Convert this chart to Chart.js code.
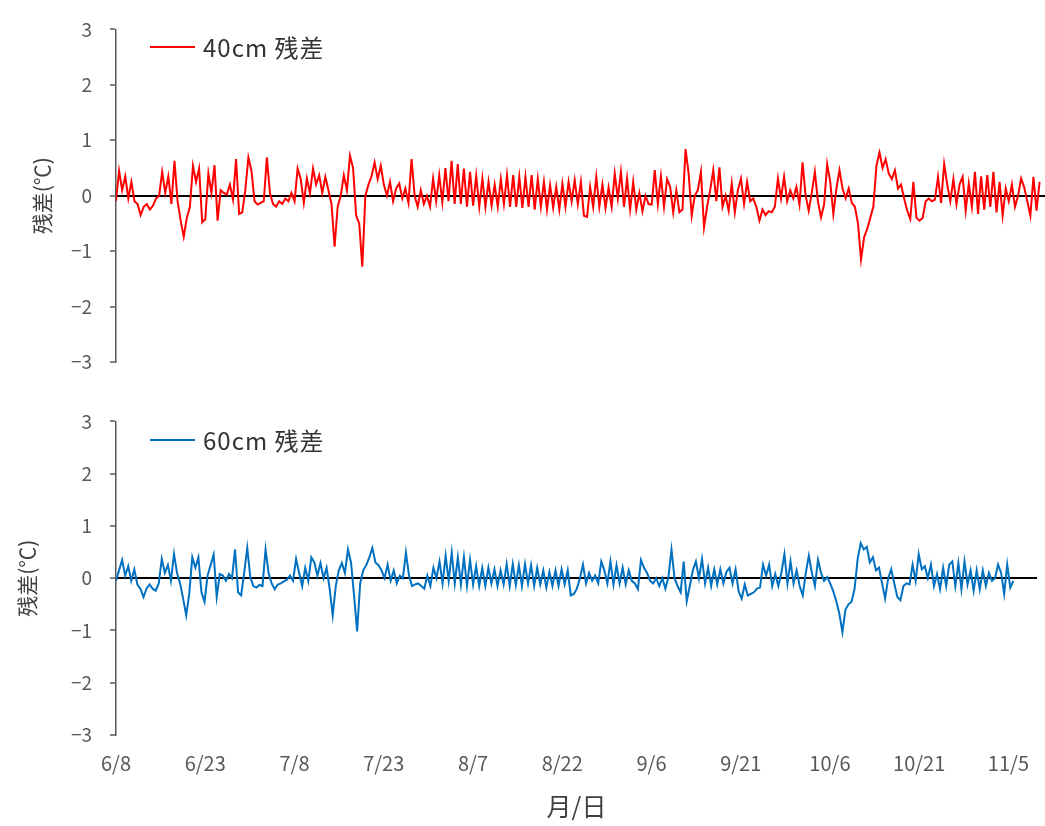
<!DOCTYPE html>
<html lang="ja">
<head>
<meta charset="utf-8">
<title>残差</title>
<script src="https://cdn.jsdelivr.net/npm/chart.js@4.4.1/dist/chart.umd.min.js"></script>
<style>
  html, body { margin: 0; padding: 0; background: #fff; }
  body { width: 1045px; height: 826px; position: relative; overflow: hidden; font-family: "Noto Sans CJK JP", sans-serif; }
  .panel { position: absolute; left: 0; width: 1045px; }
  #topPanel { top: 0; height: 392px; }
  #bottomPanel { top: 392px; height: 434px; }
  .legend { position: absolute; left: 150px; font-size: 24px; line-height: 28px; letter-spacing: 1px; color: #333333; display: flex; align-items: center; white-space: nowrap; }
  .legend .swatch { display: inline-block; width: 45px; height: 2px; margin-right: 8px; }
</style>
</head>
<body>
<div class="panel" id="topPanel"><canvas id="chart40"></canvas></div>
<div class="panel" id="bottomPanel"><canvas id="chart60"></canvas></div>
<div class="legend" id="legend40" style="top:33px"></div>
<div class="legend" id="legend60" style="top:426px"></div>
<script>
// tick labels, one every 15 days starting 6/8
const dateLabels = ['6/8', '6/23', '7/8', '7/23', '8/7', '8/22', '9/6', '9/21', '10/6', '10/21', '11/5'];
const tickEveryDays = 15;
const axisEndDay = 154.8;   // plot runs a little past 11/5
const sampleDays = 0.513;   // spacing of the digitised samples

// residuals at 40cm depth (°C)
const res40 = [
  -0.1, 0.45, 0.1, 0.35, -0.05, 0.25, -0.1, -0.15, -0.35, -0.2,
  -0.15, -0.25, -0.18, -0.05, 0, 0.43, 0.05, 0.35, -0.15, 0.63,
  -0.1, -0.45, -0.74, -0.4, -0.2, 0.54, 0.25, 0.49, -0.48, -0.42,
  0.4, 0.05, 0.55, -0.45, 0.1, 0.05, 0.02, 0.2, -0.07, 0.66,
  -0.33, -0.3, 0.1, 0.69, 0.45, -0.1, -0.16, -0.13, -0.1, 0.69,
  0.05, -0.15, -0.2, -0.1, -0.15, -0.05, -0.1, 0.05, -0.1, 0.49,
  0.3, -0.13, 0.31, 0.05, 0.49, 0.2, 0.37, 0.05, 0.34, 0.1,
  -0.15, -0.92, -0.2, 0, 0.37, 0.1, 0.72, 0.5, -0.36, -0.5,
  -1.28, 0, 0.2, 0.35, 0.6, 0.3, 0.54, 0.2, 0, 0.25,
  -0.1, 0.13, 0.22, -0.05, 0.13, -0.13, 0.66, 0, -0.2, 0.1,
  -0.15, 0, -0.2, 0.31, -0.1, 0.37, -0.12, 0.5, -0.1, 0.63,
  -0.15, 0.57, -0.15, 0.49, -0.2, 0.43, -0.18, 0.36, -0.2, 0.31,
  -0.2, 0.25, -0.18, 0.2, -0.2, 0.3, -0.15, 0.37, -0.2, 0.37,
  -0.2, 0.34, -0.22, 0.34, -0.2, 0.37, -0.25, 0.3, -0.2, 0.25,
  -0.25, 0.19, -0.22, 0.16, -0.25, 0.22, -0.2, 0.25, -0.1, 0.28,
  -0.15, 0.25, -0.36, -0.38, 0.16, -0.2, 0.34, -0.2, 0.2, -0.22,
  0.15, -0.2, 0.4, -0.05, 0.43, -0.2, 0.31, -0.25, 0.25, -0.25,
  0.05, -0.28, 0, -0.15, -0.16, 0.46, -0.15, 0.35, -0.2, 0.3,
  0.16, -0.3, 0.1, -0.3, -0.25, 0.84, 0.4, -0.36, 0, 0.1,
  0.43, -0.57, -0.2, 0.1, 0.46, -0.1, 0.51, -0.2, 0, -0.27,
  0.22, -0.3, 0.1, 0.31, -0.15, 0.25, -0.1, -0.05, -0.2, -0.45,
  -0.25, -0.35, -0.28, -0.3, -0.2, 0.31, -0.05, 0.34, -0.1, 0.1,
  -0.05, 0.16, -0.16, 0.6, 0, -0.27, 0.05, 0.43, -0.1, -0.39,
  -0.16, 0.57, 0.25, -0.33, 0.13, 0.46, 0.13, -0.05, 0.13, -0.13,
  -0.2, -0.5, -1.15, -0.75, -0.6, -0.4, -0.2, 0.54, 0.78, 0.5,
  0.66, 0.4, 0.3, 0.46, 0.13, 0.2, -0.05, -0.27, -0.42, 0.25,
  -0.4, -0.45, -0.4, -0.1, -0.05, -0.1, -0.07, 0.34, -0.13, 0.57,
  0.2, -0.1, 0.3, -0.15, 0.2, 0.34, -0.27, 0.22, -0.2, 0.43,
  -0.33, 0.35, -0.25, 0.37, -0.2, 0.43, -0.3, 0.25, -0.36, 0.13,
  -0.1, 0.2, -0.2, 0, 0.31, 0.15, -0.1, -0.36, 0.34, -0.27,
  0.25
];

// residuals at 60cm depth (°C)
const res60 = [
  -0.05, 0.15, 0.35, 0.05, 0.23, -0.05, 0.17, -0.12, -0.2, -0.36,
  -0.2, -0.12, -0.2, -0.24, -0.1, 0.37, 0.1, 0.25, -0.05, 0.46,
  0.1, -0.1, -0.39, -0.71, -0.3, 0.4, 0.2, 0.4, -0.27, -0.45,
  0.05, 0.25, 0.45, -0.36, 0.08, 0.05, -0.05, 0.08, 0, 0.55,
  -0.27, -0.33, 0.1, 0.58, 0.02, -0.15, -0.18, -0.13, -0.15, 0.55,
  0.1, -0.1, -0.21, -0.12, -0.1, -0.06, -0.03, 0.05, -0.05, 0.37,
  0.1, -0.15, 0.2, -0.05, 0.4, 0.3, 0.05, 0.29, 0, 0.2,
  -0.2, -0.71, -0.15, 0.15, 0.29, 0.1, 0.55, 0.3, -0.33, -1.02,
  -0.1, 0.15, 0.25, 0.4, 0.58, 0.3, 0.25, 0.15, 0, 0.26,
  -0.05, 0.15, -0.1, 0.05, 0, 0.49, 0.05, -0.15, -0.12, -0.1,
  -0.15, -0.2, 0.05, -0.15, 0.2, 0, 0.32, -0.1, 0.43, -0.05,
  0.49, -0.1, 0.4, -0.12, 0.4, -0.15, 0.35, -0.12, 0.23, -0.15,
  0.2, -0.15, 0.2, -0.1, 0.17, -0.15, 0.15, -0.12, 0.27, -0.15,
  0.27, -0.13, 0.25, -0.15, 0.27, -0.1, 0.25, -0.15, 0.2, -0.12,
  0.15, -0.18, 0.12, -0.15, 0.15, -0.15, 0.17, -0.12, 0.15, -0.33,
  -0.3, -0.2, 0, 0.26, -0.1, 0.1, -0.05, 0.05, -0.1, 0.32,
  0.15, -0.1, 0.32, -0.12, 0.25, -0.1, 0.2, -0.12, 0.15, -0.05,
  -0.1, -0.21, 0.35, 0.2, 0.1, -0.05, -0.1, 0, -0.15, 0,
  -0.2, 0.02, 0.55, 0, -0.15, -0.27, 0.32, -0.44, -0.15, 0.15,
  0.32, 0, 0.37, -0.1, 0.2, -0.15, 0.17, -0.12, 0.17, -0.1,
  0.12, 0.2, -0.1, 0.17, -0.25, -0.39, -0.12, -0.33, -0.3, -0.27,
  -0.2, -0.18, 0.26, 0.05, 0.26, -0.15, 0.08, -0.15, 0.1, 0.46,
  -0.1, 0.32, -0.1, 0.15, -0.15, -0.33, 0.1, 0.43, 0.1, -0.15,
  0.35, 0.1, -0.05, 0.02, -0.1, -0.25, -0.44, -0.68, -1.03, -0.6,
  -0.5, -0.45, -0.2, 0.37, 0.67, 0.55, 0.6, 0.3, 0.4, 0.15,
  0.2, -0.1, -0.39, 0, 0.17, -0.1, -0.36, -0.42, -0.15, -0.1,
  -0.12, 0.26, -0.05, 0.46, 0.17, 0.23, 0, 0.26, -0.15, 0.08,
  -0.21, 0.2, -0.15, 0.26, 0.32, -0.15, 0.29, -0.21, 0.32, -0.12,
  0.15, -0.24, 0.15, -0.21, 0.15, -0.15, 0.1, -0.05, 0, 0.26,
  0.1, -0.3, 0.26, -0.18, -0.05
];

Chart.defaults.font.family = '"Noto Sans CJK JP", "Noto Sans", sans-serif';
Chart.defaults.color = '#595959';

function makeChart(canvasId, values, label, color, opts) {
  const points = values.map((v, i) => ({ x: i * sampleDays, y: v }));

  return new Chart(document.getElementById(canvasId), {
    type: 'line',
    data: {
      datasets: [{
        label: label,
        data: points,
        borderColor: color,
        backgroundColor: color,
        borderWidth: 2,
        pointRadius: 0,
        tension: 0,
        fill: false
      }]
    },
    options: {
      responsive: true,
      maintainAspectRatio: false,
      animation: false,
      layout: { padding: opts.padding },
      plugins: {
        legend: { display: false },
        tooltip: { enabled: false }
      },
      scales: {
        x: {
          type: 'linear',
          min: 0,
          max: axisEndDay,
          display: opts.showX,
          afterBuildTicks: (scale) => {
            scale.ticks = dateLabels.map((_, i) => ({ value: i * tickEveryDays }));
          },
          grid: { display: false, drawTicks: false },
          border: { display: false },
          ticks: {
            padding: 16,
            autoSkip: false,
            maxRotation: 0,
            font: { size: 20 },
            callback: (v) => dateLabels[Math.round(v / tickEveryDays)]
          },
          title: {
            display: true,
            text: '月/日',
            color: '#404040',
            font: { size: 25 },
            padding: { top: 0, bottom: 5 }
          }
        },
        y: {
          min: -3,
          max: 3,
          afterFit: (scale) => { scale.width = 116; },
          ticks: {
            stepSize: 1,
            padding: 18,
            font: { size: 19 },
            callback: (v) => v < 0 ? '\u2212' + Math.abs(v) : String(v)
          },
          grid: {
            color: (c) => (c.tick && c.tick.value === 0) ? '#000000' : 'rgba(0,0,0,0)',
            lineWidth: 2,
            tickColor: '#595959',
            tickLength: 6,
            tickWidth: 1.5
          },
          border: { display: true, color: '#595959', width: 1.5 },
          title: {
            display: true,
            text: '残差(℃)',
            color: '#404040',
            font: { size: 21 },
            padding: { top: opts.titlePad, bottom: 0 }
          }
        }
      }
    }
  });
}

function fillLegend(id, chart) {
  const ds = chart.data.datasets[0];
  const box = document.getElementById(id);
  const swatch = document.createElement('span');
  swatch.className = 'swatch';
  swatch.style.background = ds.borderColor;
  box.appendChild(swatch);
  box.appendChild(document.createTextNode(ds.label));
}

const chart40 = makeChart('chart40', res40, '40cm 残差', '#FF0000', {
  padding: { top: 20, bottom: 30, left: 0, right: 0 },
  showX: false,
  titlePad: 29
});
const chart60 = makeChart('chart60', res60, '60cm 残差', '#0070C0', {
  padding: { top: 16, bottom: 0, left: 0, right: 0 },
  showX: true,
  titlePad: 14
});

fillLegend('legend40', chart40);
fillLegend('legend60', chart60);
</script>
</body>
</html>
